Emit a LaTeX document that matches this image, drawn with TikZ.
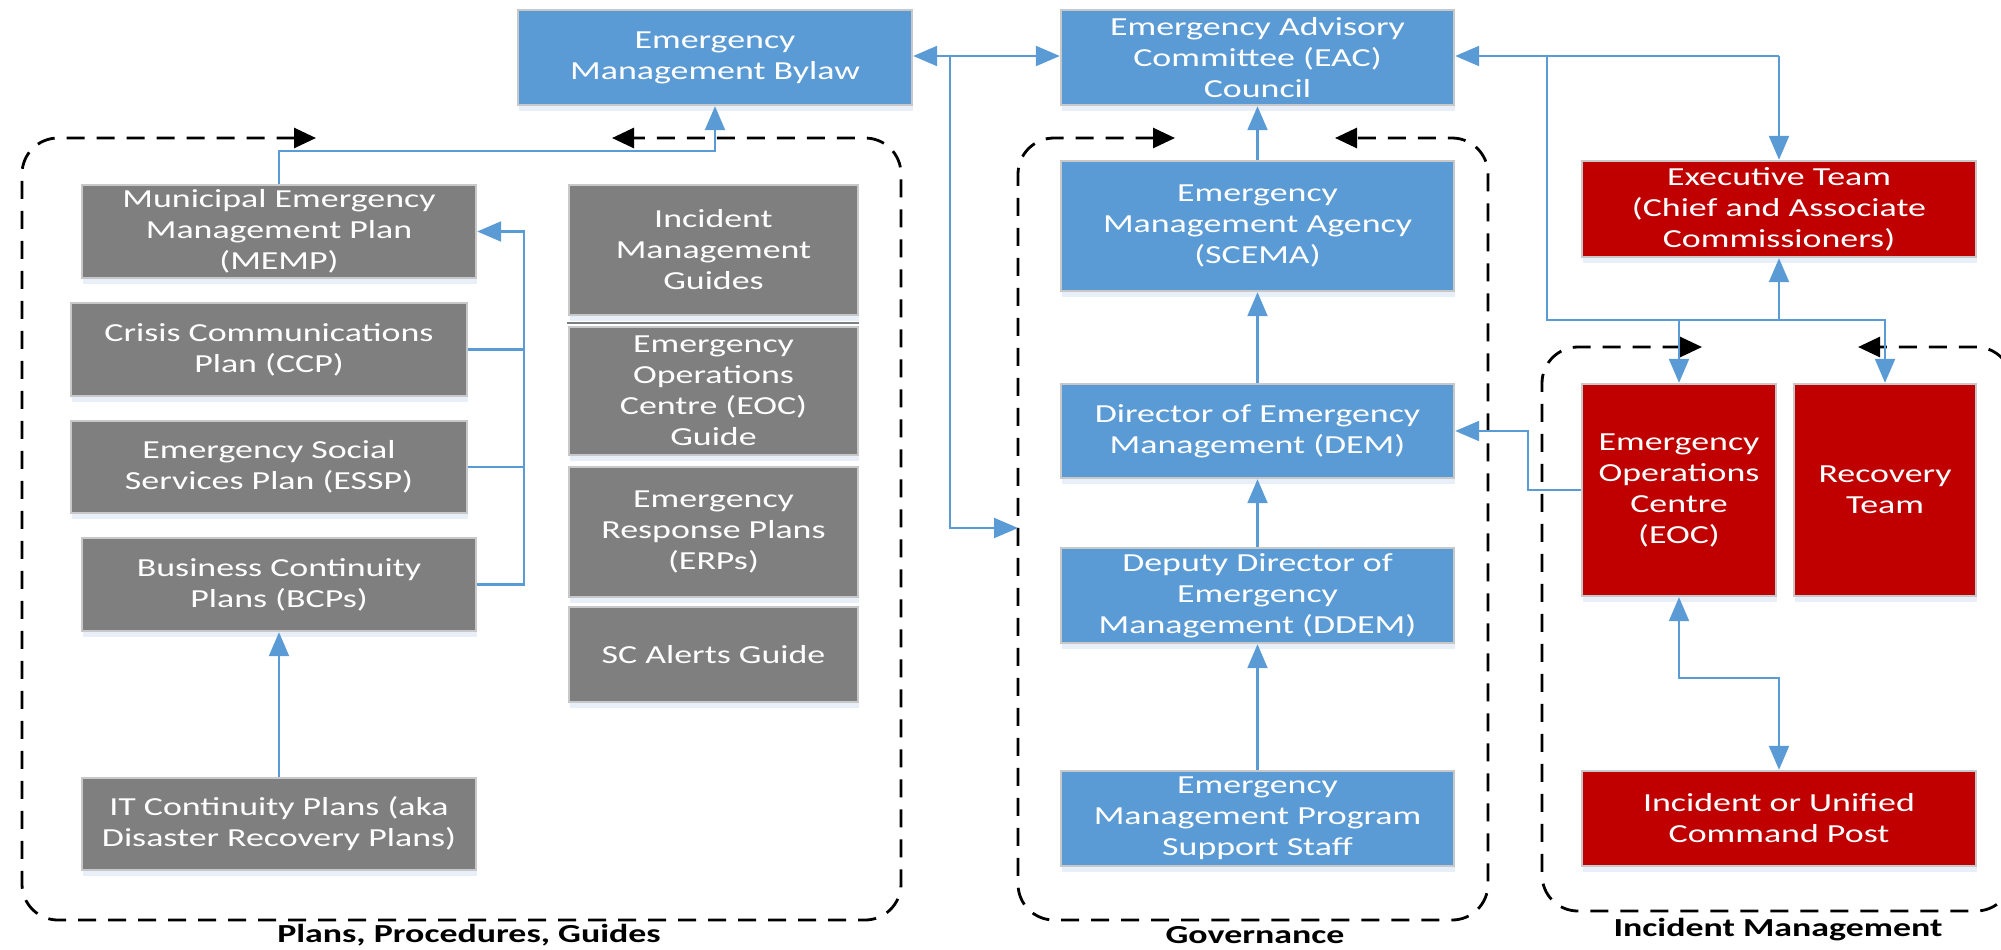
\documentclass[tikz,border=0pt]{standalone}
\usepackage{fontspec}
\setmainfont{Carlito}[FakeStretch=1.38]
\usetikzlibrary{arrows.meta,shadows}
\definecolor{boxblue}{HTML}{5B9BD5}
\definecolor{boxgray}{HTML}{7F7F7F}
\definecolor{boxred}{HTML}{C00000}
\definecolor{edgegray}{HTML}{C8C8C8}
\definecolor{linkblue}{HTML}{5B9BD5}
\definecolor{shade}{HTML}{E8EFF9}

\begin{document}
\begin{tikzpicture}[x=0.5pt,y=-0.5pt,
  wh/.style 2 args={minimum width=#1*0.5pt, minimum height=#2*0.5pt},
  box/.style={draw=edgegray, line width=1.2pt, text=white, align=center, inner sep=0pt,
    font=\fontsize{13pt}{15.5pt}\selectfont,
    drop shadow={shadow xshift=0.5pt, shadow yshift=-3pt, fill=shade, opacity=1}},
  bluebox/.style={box, fill=boxblue},
  graybox/.style={box, fill=boxgray},
  redbox/.style={box, fill=boxred},
  conn/.style={draw=linkblue, line width=1.1pt},
  arr/.style={conn, -{Triangle[length=12pt,width=10pt]}},
  arrboth/.style={conn, {Triangle[length=12pt,width=10pt]}-{Triangle[length=12pt,width=10pt]}},
  frame/.style={draw=black, line width=1.4pt, dash pattern=on 9pt off 6pt, rounded corners=18pt,
    {Triangle[length=11pt,width=10pt]}-{Triangle[length=11pt,width=10pt]}},
  grouplabel/.style={font=\fontsize{13pt}{15.5pt}\selectfont\bfseries, text=black, inner sep=0pt}
]
\useasboundingbox (0,0) rectangle (2001,949);

% group containers
\draw[frame] (316,138) -- (22,138) -- (22,920) -- (901,920) -- (901,138) -- (612,138);
\draw[frame] (1175,138) -- (1018,138) -- (1018,920) -- (1488,920) -- (1488,138) -- (1335,138);
\draw[frame] (1702,347) -- (1542,347) -- (1542,911) -- (2012,911) -- (2012,347) -- (1858,347);

\node[grouplabel] (lblplans) at (469,935) {Plans, Procedures, Guides};
\node[grouplabel] (lblgov) at (1255,935) {Governance};
\node[grouplabel] (lblinc) at (1778,930) {Incident Management};

% top level
\node[bluebox, wh={394}{95}] (bylaw) at (715,57.5) {Emergency\\Management Bylaw};
\node[bluebox, wh={393}{95}] (eac) at (1257.5,57.5) {Emergency Advisory\\Committee (EAC)\\Council};

% plans, procedures, guides
\node[graybox, wh={394}{93}] (memp) at (279,231.5) {Municipal Emergency\\Management Plan\\(MEMP)};
\node[graybox, wh={396}{93}] (ccp) at (269,349.5) {Crisis Communications\\Plan (CCP)};
\node[graybox, wh={396}{92}] (essp) at (269,467) {Emergency Social\\Services Plan (ESSP)};
\node[graybox, wh={394}{93}] (bcp) at (279,584.5) {Business Continuity\\Plans (BCPs)};
\node[graybox, wh={394}{92}] (itc) at (279,824) {IT Continuity Plans (aka\\Disaster Recovery Plans)};
\node[graybox, wh={289}{130}] (img) at (713.5,250) {Incident\\Management\\Guides};
\draw[draw=boxgray, line width=1pt] (567,323) -- (859,323);
\node[graybox, wh={289}{128}] (eocg) at (713.5,391) {Emergency\\Operations\\Centre (EOC)\\Guide};
\node[graybox, wh={289}{130}] (erp) at (713.5,532) {Emergency\\Response Plans\\(ERPs)};
\node[graybox, wh={289}{95}] (sca) at (713.5,654.5) {SC Alerts Guide};

% governance
\node[bluebox, wh={393}{130}] (scema) at (1257.5,226) {Emergency\\Management Agency\\(SCEMA)};
\node[bluebox, wh={393}{94}] (dem) at (1257.5,431) {Director of Emergency\\Management (DEM)};
\node[bluebox, wh={393}{95}] (ddem) at (1257.5,595.5) {Deputy Director of\\Emergency\\Management (DDEM)};
\node[bluebox, wh={393}{95}] (staff) at (1257.5,818.5) {Emergency\\Management Program\\Support Staff};

% incident management
\node[redbox, wh={394}{96}] (exec) at (1779,209) {Executive Team\\(Chief and Associate\\Commissioners)};
\node[redbox, wh={194}{212}] (eoc) at (1679,490) {Emergency\\Operations\\Centre\\(EOC)};
\node[redbox, wh={182}{212}] (recov) at (1885,490) {Recovery\\Team};
\node[redbox, wh={394}{95}] (icp) at (1779,818.5) {Incident or Unified\\Command Post};

% bylaw / council / governance links
\coordinate (hub) at (950,56);
\coordinate (govin) at (1018,528);
\draw[arr] (hub) -- (bylaw.east |- hub);
\draw[arr] (hub) -- (eac.west |- hub);
\draw[arr] (hub) |- (govin);

% plans feeding the MEMP and the bylaw
\coordinate (mbus) at (524,231.5);
\draw[arr] (bcp.east) -| (mbus) -- (memp.east);
\draw[conn] (ccp.east) -- (ccp.east -| mbus);
\draw[conn] (essp.east) -- (essp.east -| mbus);
\draw[arr] (memp.north) -- ++(0,-33) -| (bylaw.south);
\draw[arr] (itc.north) -- (bcp.south);

% governance chain
\draw[arr] (scema.north) -- (eac.south);
\draw[arr] (dem.north) -- (scema.south);
\draw[arr] (ddem.north) -- (dem.south);
\draw[arr] (staff.north) -- (ddem.south);

% council to incident management
\coordinate (ehub) at (1779,56);
\coordinate (tap) at (1547,56);
\coordinate (ibus) at (1547,320);
\draw[arr] (ehub) -- (eac.east |- ehub);
\draw[arr] (ehub) -- (exec.north);
\draw[arr] (tap) -- (ibus) -| (recov.north);
\draw[arr] (exec.south |- ibus) -- (exec.south);
\draw[arr] (eoc.north |- ibus) -- (eoc.north);
\draw[arr] (eoc.west) -- ++(-53,0) |- (dem.east);
\draw[arrboth] (eoc.south) -- ++(0,81) -| (icp.north);
\end{tikzpicture}
\end{document}
